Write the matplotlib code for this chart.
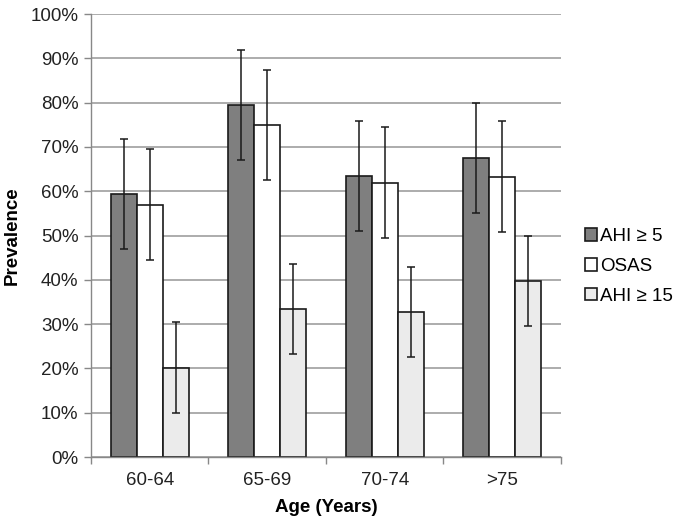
import matplotlib
matplotlib.use("Agg")
import matplotlib.pyplot as plt
import numpy as np
from matplotlib.ticker import FuncFormatter

plt.rcParams['font.family'] = ['Liberation Sans', 'DejaVu Sans']

categories = ["60-64", "65-69", "70-74", ">75"]
series_names = ["AHI ≥ 5", "OSAS", "AHI ≥ 15"]
ahi5 = [59.3, 79.4, 63.5, 67.6]
osas = [57.0, 74.9, 61.9, 63.3]
ahi15 = [20.2, 33.4, 32.8, 39.7]
err_ahi5 = [12.4, 12.4, 12.4, 12.4]
err_osas = [12.5, 12.4, 12.5, 12.6]
err_ahi15 = [10.2, 10.1, 10.2, 10.1]
yticks = [0, 10, 20, 30, 40, 50, 60, 70, 80, 90, 100]

values = [ahi5, osas, ahi15]
errs = [err_ahi5, err_osas, err_ahi15]
colors = ["#7f7f7f", "#ffffff", "#ebebeb"]

FS = 13.5

fig = plt.figure(figsize=(6.75, 5.21), dpi=100)
ax = fig.add_axes([0.1348, 0.1228, 0.831 - 0.1348, 0.973 - 0.1228])

x = np.arange(len(categories))
w = 0.222
for i, (vals, er, c, nm) in enumerate(zip(values, errs, colors, series_names)):
    pos = x + (i - 1) * w
    ax.bar(pos, vals, width=w, color=c, edgecolor="#1a1a1a", linewidth=1.2, label=nm, zorder=2)
    ax.errorbar(pos, vals, yerr=er, fmt="none", ecolor="#1a1a1a", elinewidth=1.1,
                capsize=2.8, capthick=1.1, zorder=3)

ax.set_xlim(-0.5, len(categories) - 0.5)
ax.set_ylim(0, 100)
ax.set_yticks(yticks)
ax.yaxis.set_major_formatter(FuncFormatter(lambda v, p: f"{int(v)}%"))
ax.yaxis.grid(True, color="#a6a6a6", linewidth=1.3, zorder=0)
ax.set_axisbelow(True)

ax.set_xticks(x)
ax.set_xticklabels(categories)
ax.set_xticks(np.arange(len(categories) + 1) - 0.5, minor=True)
ax.tick_params(axis="x", which="major", length=0, labelsize=FS, pad=11, colors="#222222")
ax.tick_params(axis="x", which="minor", length=5, color="#888888", width=1)
ax.tick_params(axis="y", length=5, color="#888888", width=1, labelsize=FS, colors="#222222", pad=4)

for s in ["top", "right"]:
    ax.spines[s].set_visible(False)
for s in ["left", "bottom"]:
    ax.spines[s].set_color("#888888")
    ax.spines[s].set_linewidth(1)

ax.set_xlabel("Age (Years)", fontsize=FS, fontweight="bold", labelpad=7)
ax.set_ylabel("Prevalence", fontsize=FS, fontweight="bold", labelpad=7)

leg = ax.legend(loc="center left", bbox_to_anchor=(1.0, 0.43), frameon=False, fontsize=FS,
                handlelength=0.65, handleheight=0.65, handletextpad=0.15, labelspacing=0.68,
                borderaxespad=0.9)

fig.savefig("out.png", dpi=100)
